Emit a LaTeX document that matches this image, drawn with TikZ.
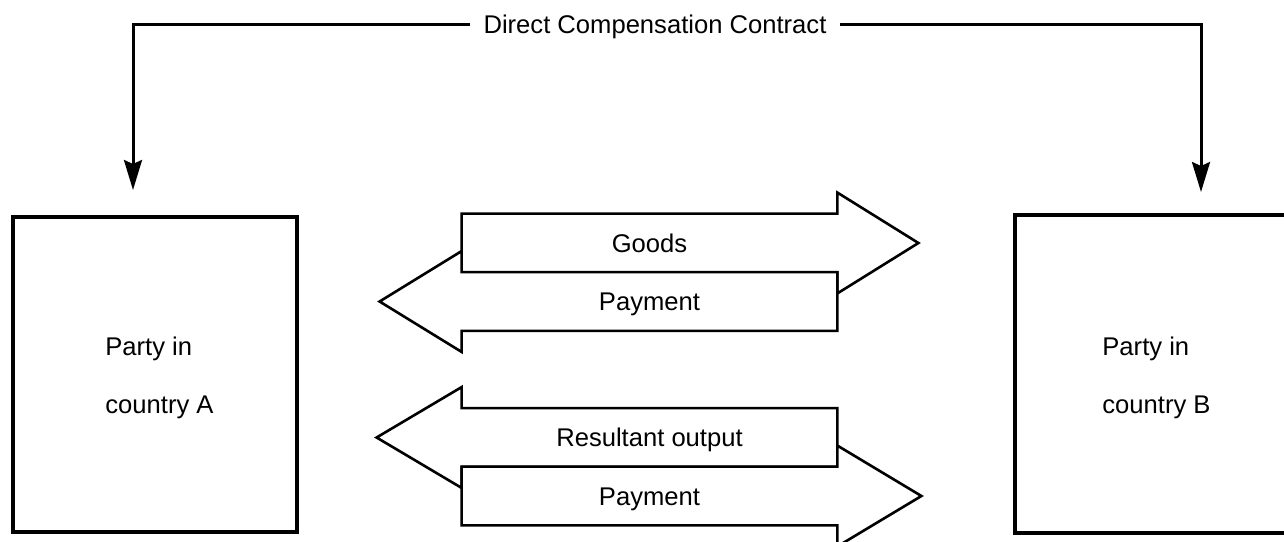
\documentclass[tikz,border=0pt]{standalone}
\usepackage{fontspec}
\setmainfont{Liberation Sans}
\usetikzlibrary{arrows.meta,calc}
\begin{document}
\begin{tikzpicture}[x=0.5pt,y=-0.5pt,
  lbl/.style={font=\fontsize{12.8}{15}\selectfont, inner sep=0pt},
  partybox/.style={draw, line width=1.6pt, line join=miter, minimum width=142pt, minimum height=157.5pt, inner sep=0pt},
  body/.style={inner sep=0pt, minimum width=187.5pt, minimum height=29pt, text height=9.2pt, text depth=0pt, font=\fontsize{12.8}{15}\selectfont},
  blk/.style={draw, line width=1.3pt, line join=miter, fill=white},
  conn/.style={line width=1.5pt, line join=miter, -{Stealth[length=15pt,width=9pt,inset=2pt]}}]
\useasboundingbox (0,0) rectangle (1284,541);
\clip (0,0) rectangle (1284,541);

% party boxes
\node[partybox] (A) at (155,374.5) {};
\node[partybox, minimum width=140pt, minimum height=159pt] (B) at (1155,374) {};
\node[lbl, anchor=base west] (a1) at (105,355) {Party in};
\node[lbl, anchor=base west] (a2) at (105,413) {country A};
\node[lbl, anchor=base west] (b1) at (1102,355) {Party in};
\node[lbl, anchor=base west] (b2) at (1102,413) {country B};

% contract connector
\node[lbl, inner xsep=6.75pt, text height=9.2pt, text depth=0pt] (title) at (655,24) {Direct Compensation Contract};
\coordinate (ta) at (133,190);
\coordinate (tb) at (1201,192);
\draw[conn] (title.west) -| (ta);
\draw[conn] (title.east) -| (tb);

% block arrows, upper pair
\node[body] (goods) at (649.5,243) {Goods};
\node[body] (pay1) at (649.5,301.5) {Payment};
\draw[blk] (goods.south west) -- (goods.north west) -- (goods.north east) -- ++(0,-21)
  -- ($(goods.east)+(81,0)$) -- ($(goods.south east)+(0,21)$) -- (goods.south east) -- cycle;
\draw[blk] (pay1.north east) -- (pay1.north west) -- ++(0,-21)
  -- ($(pay1.west)+(-82,0)$) -- ($(pay1.south west)+(0,21)$) -- (pay1.south west) -- (pay1.south east) -- cycle;
\node[body] at (goods) {Goods};
\node[body] at (pay1) {Payment};

% block arrows, lower pair
\node[body] (res) at (649.5,437.5) {Resultant output};
\node[body] (pay2) at (649.5,496) {Payment};
\draw[blk] (res.north east) -- (res.north west) -- ++(0,-21)
  -- ($(res.west)+(-85,0)$) -- ($(res.south west)+(0,21)$) -- (res.south west) -- (res.south east) -- cycle;
\draw[blk] (pay2.south west) -- (pay2.north west) -- (pay2.north east) -- ++(0,-21)
  -- ($(pay2.east)+(84,0)$) -- ($(pay2.south east)+(0,21)$) -- (pay2.south east) -- cycle;
\node[body] at (res) {Resultant output};
\node[body] at (pay2) {Payment};
\end{tikzpicture}
\end{document}
